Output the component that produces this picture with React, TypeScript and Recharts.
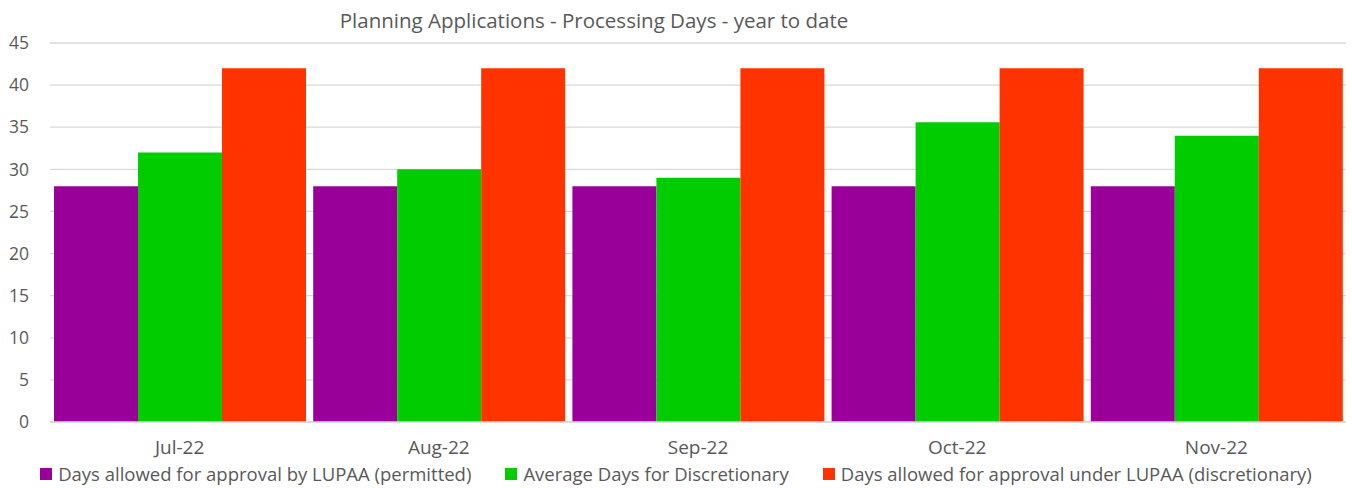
import React from "react";
import { BarChart, Bar, XAxis, YAxis, CartesianGrid } from "recharts";

const months = ["Jul-22", "Aug-22", "Sep-22", "Oct-22", "Nov-22"];
const permitted = [28, 28, 28, 28, 28];
const avgDiscretionary = [32, 30, 29, 35.6, 34];
const discretionary = [42, 42, 42, 42, 42];
const yTicks = [0, 5, 10, 15, 20, 25, 30, 35, 40, 45];
const boundaryTicks = [0, 1, 2, 3, 4, 5];

const seriesInfo = [
  { key: "permitted", name: "Days allowed for approval by LUPAA (permitted)", color: "#990099" },
  { key: "avg", name: "Average Days for Discretionary", color: "#00cc00" },
  { key: "disc", name: "Days allowed for approval under LUPAA (discretionary)", color: "#ff3300" },
];

const data = months.map((m, i) => ({
  month: m,
  permitted: permitted[i],
  avg: avgDiscretionary[i],
  disc: discretionary[i],
}));

const FONT = "'Open Sans', sans-serif";
const TEXT = "#595959";

export default function App() {
  return (
    <div style={{ position: "absolute", left: 0, top: 0, width: 1352, height: 488, background: "#fff", fontFamily: FONT }}>
      <div
        style={{
          position: "absolute",
          top: 6,
          left: 0,
          width: 1188,
          textAlign: "center",
          fontSize: 20.5,
          color: TEXT,
          lineHeight: "28px",
        }}
      >
        Planning Applications - Processing Days - year to date
      </div>
      <BarChart
        width={1352}
        height={488}
        data={data}
        margin={{ top: 43, right: 6, left: 0, bottom: 36 }}
        barGap={0}
        barCategoryGap={4}
      >
        <CartesianGrid vertical={false} stroke="#d9d9d9" strokeWidth={1.3} />
        <XAxis
          xAxisId="bounds"
          type="number"
          domain={[0, 5]}
          ticks={boundaryTicks}
          axisLine={false}
          tick={false}
          tickLine={{ stroke: "#d9d9d9", strokeWidth: 1.3 }}
          tickSize={7}
          height={0}
        />
        <XAxis
          dataKey="month"
          tickLine={false}
          axisLine={{ stroke: "#d9d9d9", strokeWidth: 1.3 }}
          tick={{ fill: TEXT, fontSize: 19, fontFamily: FONT }}
          tickMargin={13}
          interval={0}
          height={30}
        />
        <YAxis
          domain={[0, 45]}
          ticks={yTicks}
          interval={0}
          width={50}
          axisLine={false}
          tickLine={false}
          tickSize={0}
          tickMargin={21}
          tick={{ fill: TEXT, fontSize: 17.5, fontFamily: FONT }}
        />
        {seriesInfo.map((s) => (
          <Bar key={s.key} dataKey={s.key} name={s.name} fill={s.color} isAnimationActive={false} />
        ))}
      </BarChart>
      <div
        style={{
          position: "absolute",
          top: 460,
          left: 0,
          width: 1352,
          display: "flex",
          justifyContent: "center",
          gap: 34,
          fontSize: 18.5,
          color: TEXT,
          lineHeight: "28px",
        }}
      >
        {seriesInfo.map((s) => (
          <div key={s.key} style={{ display: "flex", alignItems: "center" }}>
            <span style={{ display: "inline-block", width: 12, height: 12, background: s.color, marginRight: 6 }} />
            <span>{s.name}</span>
          </div>
        ))}
      </div>
    </div>
  );
}
